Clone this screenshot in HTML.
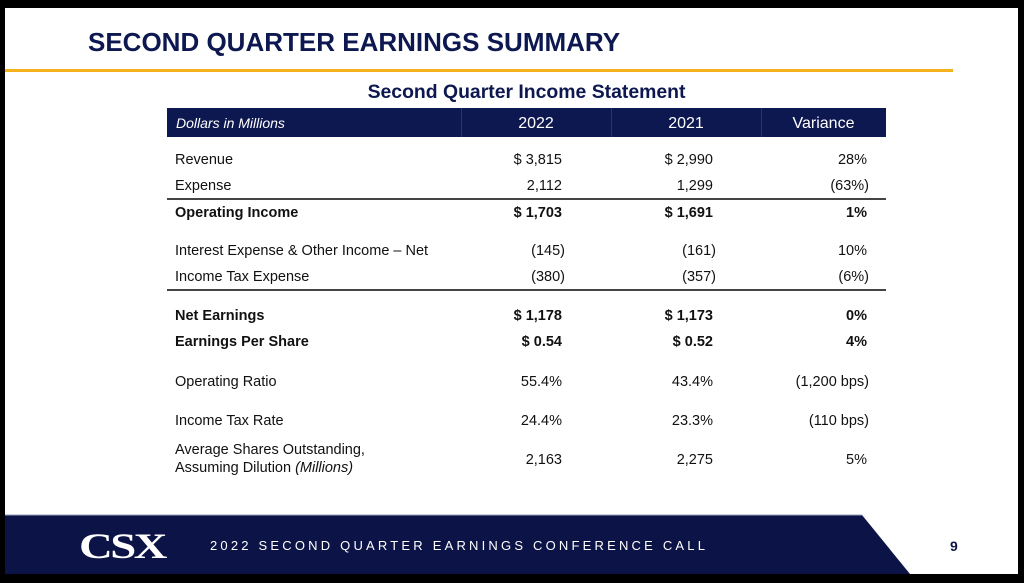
<!DOCTYPE html>
<html><head><meta charset="utf-8"><style>
*{margin:0;padding:0;box-sizing:border-box}
body{width:1024px;height:583px;background:#000;position:relative;overflow:hidden;font-family:"Liberation Sans",Arial,sans-serif}
.slide{position:absolute;left:5px;top:8px;width:1013px;height:566px;background:#fff}
.t{position:absolute;white-space:nowrap;font-size:14.5px;color:#111;line-height:1}
.r{text-align:right}
.b{font-weight:bold}
.title{position:absolute;left:88px;top:29px;font-size:26px;font-weight:bold;color:#0d1850;line-height:1}
.hr{position:absolute;height:2px;background:#444;left:167px;width:719px}
</style></head><body>
<div class="slide"></div>
<div class="title">SECOND QUARTER EARNINGS SUMMARY</div>
<div style="position:absolute;left:5px;top:69px;width:948px;height:3px;background:#f6b21c"></div>
<div class="t b" style="left:0;width:1053px;text-align:center;top:83px;font-size:19.4px;color:#0d1850">Second Quarter Income Statement</div>
<div style="position:absolute;left:167px;top:108px;width:719px;height:29px;background:#0d1850"></div>
<div style="position:absolute;left:461px;top:108px;width:1px;height:29px;background:#2a3468"></div>
<div style="position:absolute;left:611px;top:108px;width:1px;height:29px;background:#2a3468"></div>
<div style="position:absolute;left:761px;top:108px;width:1px;height:29px;background:#2a3468"></div>
<div class="t" style="left:176px;top:116px;color:#fff;font-style:italic;font-size:14px">Dollars in Millions</div>
<div class="t" style="left:461px;width:150px;text-align:center;top:116px;color:#fff;font-size:16px">2022</div>
<div class="t" style="left:611px;width:150px;text-align:center;top:116px;color:#fff;font-size:16px">2021</div>
<div class="t" style="left:761px;width:125px;text-align:center;top:116px;color:#fff;font-size:16px">Variance</div>

<div class="t" style="left:175px;top:153px">Revenue</div>
<div class="t r" style="right:462px;top:153px">$ 3,815</div>
<div class="t r" style="right:311px;top:153px">$ 2,990</div>
<div class="t r" style="right:157px;top:153px">28%</div>

<div class="t" style="left:175px;top:179px">Expense</div>
<div class="t r" style="right:462px;top:179px">2,112</div>
<div class="t r" style="right:311px;top:179px">1,299</div>
<div class="t r" style="right:155px;top:179px">(63%)</div>
<div class="hr" style="top:198px"></div>

<div class="t b" style="left:175px;top:206px">Operating Income</div>
<div class="t b r" style="right:462px;top:206px">$ 1,703</div>
<div class="t b r" style="right:311px;top:206px">$ 1,691</div>
<div class="t b r" style="right:157px;top:206px">1%</div>

<div class="t" style="left:175px;top:244px">Interest Expense &amp; Other Income – Net</div>
<div class="t r" style="right:459px;top:244px">(145)</div>
<div class="t r" style="right:308px;top:244px">(161)</div>
<div class="t r" style="right:157px;top:244px">10%</div>

<div class="t" style="left:175px;top:270px">Income Tax Expense</div>
<div class="t r" style="right:459px;top:270px">(380)</div>
<div class="t r" style="right:308px;top:270px">(357)</div>
<div class="t r" style="right:155px;top:270px">(6%)</div>
<div class="hr" style="top:289px"></div>

<div class="t b" style="left:175px;top:309px">Net Earnings</div>
<div class="t b r" style="right:462px;top:309px">$ 1,178</div>
<div class="t b r" style="right:311px;top:309px">$ 1,173</div>
<div class="t b r" style="right:157px;top:309px">0%</div>

<div class="t b" style="left:175px;top:335px">Earnings Per Share</div>
<div class="t b r" style="right:462px;top:335px">$ 0.54</div>
<div class="t b r" style="right:311px;top:335px">$ 0.52</div>
<div class="t b r" style="right:157px;top:335px">4%</div>

<div class="t" style="left:175px;top:375px">Operating Ratio</div>
<div class="t r" style="right:462px;top:375px">55.4%</div>
<div class="t r" style="right:311px;top:375px">43.4%</div>
<div class="t r" style="right:155px;top:375px">(1,200 bps)</div>

<div class="t" style="left:175px;top:414px">Income Tax Rate</div>
<div class="t r" style="right:462px;top:414px">24.4%</div>
<div class="t r" style="right:311px;top:414px">23.3%</div>
<div class="t r" style="right:155px;top:414px">(110 bps)</div>

<div class="t" style="left:175px;top:443px">Average Shares Outstanding,</div>
<div class="t" style="left:175px;top:461px">Assuming Dilution <i>(Millions)</i></div>
<div class="t r" style="right:462px;top:453px">2,163</div>
<div class="t r" style="right:311px;top:453px">2,275</div>
<div class="t r" style="right:157px;top:453px">5%</div>

<svg style="position:absolute;left:0;top:0" width="1024" height="583">
<polygon points="5,515 862,515 910,574 5,574" fill="#0c1447"/>
<line x1="5" y1="515" x2="862" y2="515" stroke="#9aa0b8" stroke-width="1"/>
</svg>
<div class="t b" style="left:79px;top:528px;font-size:36px;color:#fff;font-family:'Liberation Serif',serif;letter-spacing:-2px;transform:scaleX(1.3);transform-origin:left">CSX</div>
<div class="t" style="left:210px;top:539px;font-size:13px;color:#fff;letter-spacing:3.2px">2022 SECOND QUARTER EARNINGS CONFERENCE CALL</div>
<div class="t b" style="left:950px;top:539px;font-size:14px;color:#0c1447">9</div>
</body></html>
